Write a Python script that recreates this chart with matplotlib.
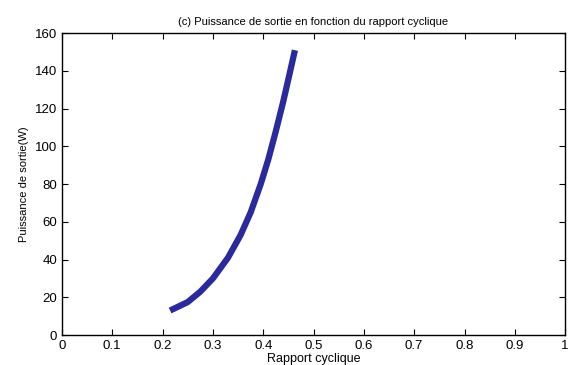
import matplotlib.pyplot as plt

plt.rcParams['font.family'] = ['Liberation Sans', 'DejaVu Sans']

# rapport cyclique vs puissance de sortie
rapport = [0.215, 0.25, 0.275, 0.30, 0.33, 0.355, 0.375, 0.395, 0.41, 0.425, 0.44, 0.452, 0.463]
puissance = [13, 17.5, 23, 30, 41, 53, 65, 80, 93, 108, 124, 138, 151]

xticks = [0, 0.1, 0.2, 0.3, 0.4, 0.5, 0.6, 0.7, 0.8, 0.9, 1]
xticklabels = ['0', '0.1', '0.2', '0.3', '0.4', '0.5', '0.6', '0.7', '0.8', '0.9', '1']
yticks = [0, 20, 40, 60, 80, 100, 120, 140, 160]

fig = plt.figure(figsize=(5.68, 3.65), dpi=100)
ax = fig.add_axes([0.109, 0.082, 0.886, 0.827])

ax.plot(rapport, puissance, color='#2a2a9c', linewidth=4.5,
        solid_capstyle='butt', solid_joinstyle='round')

ax.set_xlim(0, 1)
ax.set_ylim(0, 160)
ax.set_xticks(xticks)
ax.set_xticklabels(xticklabels)
ax.set_yticks(yticks)
ax.tick_params(direction='in', top=True, right=True, labelsize=9.5, length=4, width=0.8)
for s in ax.spines.values():
    s.set_linewidth(1.0)

ax.set_xlabel('Rapport cyclique', fontsize=9, labelpad=1)
ax.set_ylabel('Puissance de sortie(W)', fontsize=8, labelpad=4)
ax.set_title('(c) Puissance de sortie en fonction du rapport cyclique', fontsize=8, pad=6)

fig.savefig('out.png', dpi=100)
